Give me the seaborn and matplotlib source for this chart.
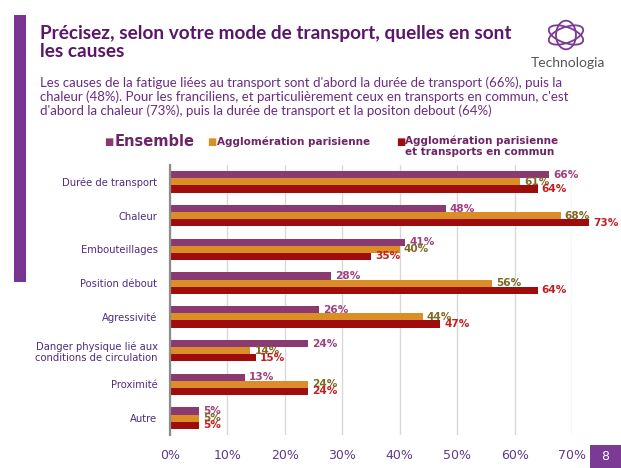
import pandas as pd
import seaborn as sns
import matplotlib.pyplot as plt
from matplotlib.patches import Rectangle, Ellipse

# Data
causes = ["Durée de transport", "Chaleur", "Embouteillages", "Position débout",
          "Agressivité", "Danger physique lié aux\nconditions de circulation",
          "Proximité", "Autre"]
series = ["Ensemble", "Agglomération parisienne",
          "Agglomération parisienne\net transports en commun"]
ensemble = [66, 48, 41, 28, 26, 24, 13, 5]
agglo = [61, 68, 40, 56, 44, 14, 24, 5]
agglo_tc = [64, 73, 35, 64, 47, 15, 24, 5]
xticks = [0, 10, 20, 30, 40, 50, 60, 70]

bar_colors = ["#8A3A70", "#DA8E25", "#9E0C0C"]
label_colors = ["#A0407F", "#7E6A22", "#C21F1F"]

df = pd.DataFrame({
    "cause": causes * 3,
    "serie": [series[0]] * 8 + [series[1]] * 8 + [series[2]] * 8,
    "value": ensemble + agglo + agglo_tc,
})

sns.set_style("white")
plt.rcParams["font.family"] = ["DejaVu Sans"]

fig = plt.figure(figsize=(6.21, 4.68), dpi=100)
W, H = 621, 468

def fx(px):
    return px / W

def fy(py):
    return 1 - py / H

ax = fig.add_axes([fx(170), fy(435), fx(572) - fx(170), fy(165) - fy(435)])
sns.barplot(data=df, x="value", y="cause", hue="serie", orient="h",
            palette=bar_colors, width=0.63, ax=ax, legend=False,
            edgecolor="none", saturation=1)

for cont, col in zip(ax.containers, label_colors):
    for p in cont:
        p.set_clip_on(False)
    txts = ax.bar_label(cont, labels=[f"{int(v)}%" for v in cont.datavalues],
                        padding=3, color=col, fontsize=7.6, fontweight="bold")
    for t in txts:
        t.set_clip_on(False)
        t.set_annotation_clip(False)

ax.set_xlim(0, 70)
ax.set_ylim(7.5, -0.5)
ax.set_xticks(xticks)
ax.set_xticklabels([f"{t}%" for t in xticks], color="#5B3B8C", fontsize=9)
ax.tick_params(axis="y", colors="#4E2C7E", labelsize=7.2, length=0, pad=9)
ax.tick_params(axis="x", length=0, pad=10)
ax.set_xlabel("")
ax.set_ylabel("")
ax.grid(axis="x", color="#D9D9D9", linewidth=1)
ax.set_axisbelow(True)
for s in ["top", "right", "bottom"]:
    ax.spines[s].set_visible(False)
ax.spines["left"].set_color("#8C8C8C")
ax.spines["left"].set_linewidth(1.6)

# Legend drawn as text entries
fig.text(fx(104), fy(142), "■", color=bar_colors[0], fontsize=7, va="center")
fig.text(fx(115), fy(142), "Ensemble", color="#6E2466", fontsize=10.5,
         fontweight="bold", va="center")
fig.text(fx(207), fy(142), "■", color=bar_colors[1], fontsize=7, va="center")
fig.text(fx(217), fy(142), "Agglomération parisienne", color="#6E2466",
         fontsize=7.5, fontweight="bold", va="center")
fig.text(fx(396), fy(142), "■", color=bar_colors[2], fontsize=7, va="center")
fig.text(fx(405), fy(135), "Agglomération parisienne\net transports en commun",
         color="#6E2466", fontsize=7.5, fontweight="bold", va="top",
         linespacing=1.15)

# Title and subtitle
fig.text(fx(40), fy(25), "Précisez, selon votre mode de transport, quelles en sont\nles causes",
         color="#5A1668", fontsize=13.7, fontweight="bold", va="top",
         family="Lato", linespacing=1.1)
fig.text(fx(40), fy(76),
         "Les causes de la fatigue liées au transport sont d'abord la durée de transport (66%), puis la\n"
         "chaleur (48%). Pour les franciliens, et particulièrement ceux en transports en commun, c'est\n"
         "d'abord la chaleur (73%), puis la durée de transport et la positon debout (64%)",
         color="#6A2C82", fontsize=9.5, va="top", family="Lato", linespacing=1.15)

# Left decorative bar and page number
fig.add_artist(Rectangle((fx(14), fy(282)), fx(12), fy(15) - fy(282),
                         transform=fig.transFigure, color="#7A3592", lw=0))
fig.add_artist(Rectangle((fx(590), 0), fx(31), fy(445),
                         transform=fig.transFigure, color="#7B3A93", lw=0))
fig.text(fx(605), fy(457), "8", color="white", fontsize=9, ha="center", va="center")

# Logo
for ang in [30, 90, 150]:
    fig.add_artist(Ellipse((fx(566), fy(35)), fx(38), fy(0) - fy(15), angle=ang,
                           transform=fig.transFigure, fill=False,
                           edgecolor="#7B3A93", lw=1.3))
fig.text(fx(568), fy(63), "Technologia", color="#555555", fontsize=10,
         ha="center", va="center", family="Lato")

fig.savefig("out.png", dpi=100)
